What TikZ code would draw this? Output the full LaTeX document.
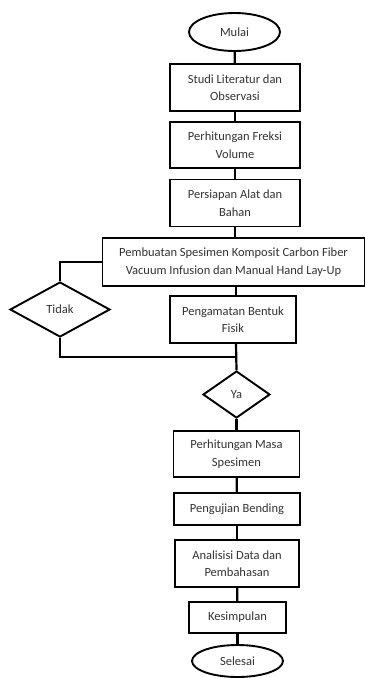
\documentclass[tikz,border=0pt]{standalone}
\usepackage{fontspec}
\setmainfont{Carlito}
\usetikzlibrary{shapes.geometric}
\tikzset{
  box/.style={draw, line width=1.9pt, rectangle, align=center, inner sep=0pt, font=\fontsize{12.5}{17.5}\selectfont, text=black!80},
  term/.style={draw, line width=1.9pt, ellipse, inner sep=0pt, font=\fontsize{12.5}{17.5}\selectfont, text=black!80},
  dec/.style={draw, line width=1.9pt, diamond, inner sep=0pt, font=\fontsize{12.5}{17.5}\selectfont, text=black!80},
  conn/.style={line width=2.2pt}
}
\begin{document}
\begin{tikzpicture}[x=1pt,y=-1pt]
\useasboundingbox (0,0) rectangle (366,678);
\node[term, minimum width=91pt, minimum height=38pt] (mulai) at (234.5,32) {Mulai};
\node[box, minimum width=130pt, minimum height=47pt] (studi) at (235,87.5) {Studi Literatur dan\\Observasi};
\node[box, minimum width=130pt, minimum height=46pt] (freksi) at (235,145) {Perhitungan Freksi\\Volume};
\node[box, minimum width=130pt, minimum height=47pt] (alat) at (235,203) {Persiapan Alat dan\\Bahan};
\node[box, minimum width=262pt, minimum height=48pt] (buat) at (233.5,262) {Pembuatan Spesimen Komposit Carbon Fiber\\Vacuum Infusion dan Manual Hand Lay-Up};
\node[dec, minimum width=100pt, minimum height=55pt] (tidak) at (60,309.5) {Tidak};
\node[box, minimum width=126pt, minimum height=47pt] (amat) at (233,319.5) {Pengamatan Bentuk\\Fisik};
\node[dec, minimum width=67pt, minimum height=47pt] (ya) at (236.5,394.5) {Ya};
\node[box, minimum width=126pt, minimum height=46pt] (masa) at (236.5,454) {Perhitungan Masa\\Spesimen};
\node[box, minimum width=126pt, minimum height=32pt] (bend) at (237,509) {Pengujian Bending};
\node[box, minimum width=124pt, minimum height=47pt] (anal) at (237,563.5) {Analisisi Data dan\\Pembahasan};
\node[box, minimum width=97pt, minimum height=31pt] (kes) at (237.5,617.5) {Kesimpulan};
\node[term, minimum width=91pt, minimum height=32pt] (selesai) at (237.5,661) {Selesai};
\coordinate (j1) at (236,357);
\draw[conn] (mulai) -- (studi);
\draw[conn] (studi) -- (freksi);
\draw[conn] (freksi) -- (alat);
\draw[conn] (alat.south) -- (alat.south |- buat.north);
\draw[conn] (buat.south -| j1) -- (amat.north -| j1);
\draw[conn] (amat.south -| j1) -- (ya.north);
\draw[conn] (buat.west) -| (tidak.north);
\draw[conn] (tidak.south) |- (j1);
\draw[conn] (ya.south) -- (masa.north -| ya.south);
\draw[conn] (masa) -- (bend);
\draw[conn] (bend) -- (anal);
\draw[conn] (anal) -- (kes);
\draw[conn] (kes) -- (selesai);
\end{tikzpicture}
\end{document}
